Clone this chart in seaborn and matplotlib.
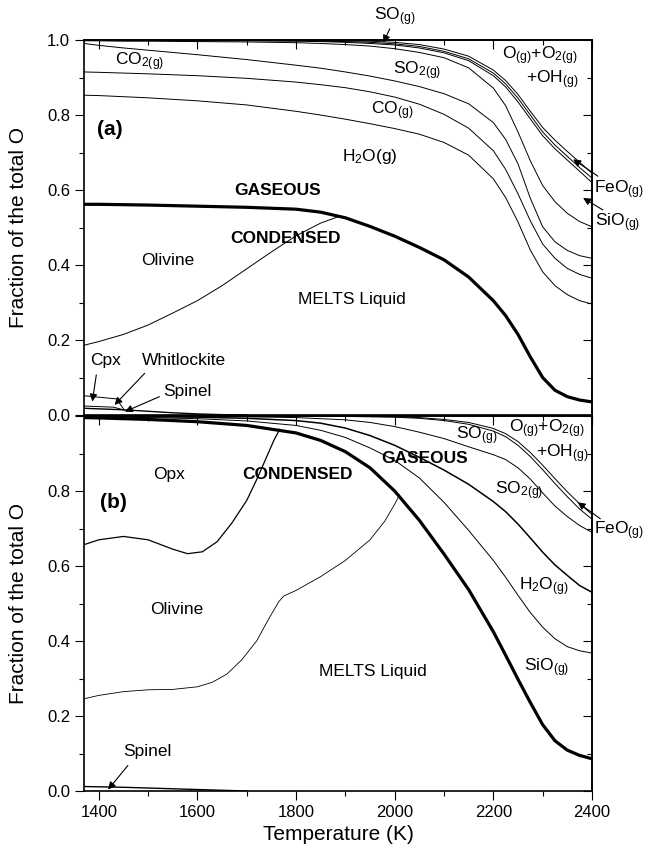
import matplotlib
matplotlib.use("Agg")
import matplotlib.pyplot as plt
import seaborn as sns
from matplotlib.ticker import MultipleLocator

# temperature grid (K) shared by the gas boundaries
temps = [1370, 1400, 1450, 1500, 1600, 1700, 1800, 1850, 1900, 1950, 2000,
         2050, 2100, 2150, 2200, 2225, 2250, 2275, 2300, 2325, 2350, 2375, 2400]

# ---- panel (a): cumulative fraction boundaries ----
cond_a = [0.562, 0.562, 0.561, 0.560, 0.557, 0.554, 0.549, 0.541, 0.526, 0.503, 0.477,
          0.447, 0.414, 0.368, 0.305, 0.265, 0.215, 0.155, 0.100, 0.066, 0.049, 0.040, 0.035]
h2o_a = [0.853, 0.852, 0.849, 0.846, 0.838, 0.827, 0.810, 0.800, 0.789, 0.777, 0.764,
         0.749, 0.727, 0.693, 0.630, 0.580, 0.515, 0.440, 0.382, 0.345, 0.321, 0.305, 0.296]
co_a = [0.915, 0.914, 0.912, 0.910, 0.905, 0.898, 0.888, 0.881, 0.873, 0.862, 0.848,
        0.829, 0.802, 0.765, 0.705, 0.655, 0.590, 0.518, 0.456, 0.418, 0.391, 0.375, 0.365]
co2_a = [0.991, 0.986, 0.979, 0.973, 0.961, 0.948, 0.933, 0.925, 0.915, 0.904, 0.891,
         0.876, 0.857, 0.830, 0.780, 0.735, 0.670, 0.578, 0.502, 0.462, 0.439, 0.425, 0.418]
so2_a = [0.998, 0.998, 0.997, 0.997, 0.996, 0.995, 0.993, 0.991, 0.988, 0.984, 0.977,
         0.967, 0.953, 0.926, 0.872, 0.825, 0.755, 0.678, 0.612, 0.569, 0.538, 0.516, 0.502]
sio_a = [0.999, 0.999, 0.999, 0.999, 0.998, 0.998, 0.997, 0.996, 0.994, 0.991, 0.987,
         0.979, 0.966, 0.945, 0.905, 0.875, 0.835, 0.790, 0.745, 0.710, 0.680, 0.650, 0.620]
so_a = [0.9995, 0.9995, 0.9995, 0.9995, 0.999, 0.999, 0.998, 0.997, 0.996, 0.994, 0.990,
        0.983, 0.970, 0.950, 0.912, 0.883, 0.845, 0.800, 0.755, 0.720, 0.690, 0.660, 0.632]
feo_a = [1.0, 1.0, 1.0, 1.0, 1.0, 0.9995, 0.999, 0.999, 0.998, 0.997, 0.994,
         0.988, 0.976, 0.957, 0.920, 0.892, 0.855, 0.810, 0.767, 0.733, 0.703, 0.674, 0.645]

olv_a_t = [1370, 1400, 1450, 1500, 1550, 1600, 1650, 1700, 1750, 1800, 1850, 1888]
olv_a = [0.186, 0.196, 0.215, 0.240, 0.272, 0.305, 0.345, 0.390, 0.435, 0.478, 0.512, 0.530]
cpx_a_t = [1370, 1436, 1452]
cpx_a = [0.0515, 0.043, 0.013]
whit_a_t = [1370, 1430, 1452]
whit_a = [0.024, 0.021, 0.013]
spl_a_t = [1370, 1450, 1500, 1550, 1600, 1650, 1700]
spl_a = [0.018, 0.014, 0.010, 0.006, 0.003, 0.001, 0.0]

# ---- panel (b) ----
cond_b = [0.996, 0.995, 0.993, 0.991, 0.985, 0.975, 0.955, 0.935, 0.905, 0.862, 0.800,
          0.722, 0.632, 0.537, 0.425, 0.362, 0.298, 0.236, 0.177, 0.134, 0.109, 0.095, 0.086]
sio_b = [0.998, 0.998, 0.997, 0.996, 0.993, 0.987, 0.975, 0.962, 0.943, 0.915, 0.882,
         0.835, 0.770, 0.695, 0.615, 0.570, 0.522, 0.476, 0.437, 0.406, 0.385, 0.374, 0.368]
h2o_b = [0.999, 0.999, 0.999, 0.998, 0.997, 0.994, 0.988, 0.981, 0.968, 0.948, 0.922,
         0.890, 0.856, 0.818, 0.772, 0.745, 0.712, 0.675, 0.637, 0.603, 0.575, 0.548, 0.530]
so2_b = [0.9995, 0.9995, 0.9995, 0.999, 0.999, 0.998, 0.996, 0.993, 0.990, 0.983, 0.972,
         0.957, 0.940, 0.918, 0.897, 0.884, 0.862, 0.832, 0.795, 0.760, 0.732, 0.708, 0.690]
so_b = [1.0, 1.0, 1.0, 1.0, 1.0, 1.0, 0.9995, 0.9995, 0.999, 0.998, 0.997,
        0.994, 0.988, 0.978, 0.960, 0.945, 0.922, 0.892, 0.857, 0.820, 0.785, 0.752, 0.725]
feo_b = [1.0, 1.0, 1.0, 1.0, 1.0, 1.0, 1.0, 1.0, 0.9995, 0.999, 0.998,
         0.996, 0.991, 0.983, 0.967, 0.953, 0.932, 0.903, 0.869, 0.833, 0.798, 0.766, 0.738]

opx_b_t = [1370, 1400, 1450, 1500, 1550, 1580, 1610, 1640, 1670, 1700, 1720, 1740, 1755, 1767]
opx_b = [0.657, 0.670, 0.679, 0.670, 0.645, 0.633, 0.638, 0.665, 0.715, 0.775, 0.830, 0.890, 0.935, 0.965]
olv_b_t = [1370, 1400, 1450, 1500, 1550, 1600, 1630, 1660, 1690, 1720, 1745, 1765, 1775,
           1800, 1850, 1900, 1950, 1980, 2000, 2010]
olv_b = [0.246, 0.255, 0.265, 0.270, 0.271, 0.278, 0.290, 0.312, 0.350, 0.400, 0.460, 0.505, 0.520,
         0.535, 0.572, 0.615, 0.670, 0.720, 0.765, 0.790]
spl_b_t = [1370, 1450, 1550, 1650, 1700]
spl_b = [0.012, 0.010, 0.006, 0.002, 0.0]

sns.set_theme(style="ticks")
plt.rcParams['font.family'] = ['Liberation Sans', 'DejaVu Sans']
plt.rcParams['mathtext.fontset'] = 'custom'
plt.rcParams['mathtext.rm'] = 'Liberation Sans'
plt.rcParams['mathtext.it'] = 'Liberation Sans:italic'
plt.rcParams['mathtext.bf'] = 'Liberation Sans:bold'
for key in ['text.color', 'axes.labelcolor', 'xtick.color', 'ytick.color', 'axes.edgecolor']:
    plt.rcParams[key] = 'black'

FS = 12.5


def line(ax, x, y, lw=0.7):
    sns.lineplot(x=x, y=y, ax=ax, color="black", linewidth=lw, estimator=None, sort=False)


def label(ax, x, y, s, **kw):
    kw.setdefault("fontsize", FS)
    kw.setdefault("ha", "center")
    kw.setdefault("va", "center")
    ax.text(x, y, s, color="black", clip_on=False, **kw)


def arrow(ax, tail, tip):
    ax.annotate("", xy=tip, xytext=tail, annotation_clip=False,
                arrowprops=dict(arrowstyle="-|>", color="black", lw=0.8,
                                mutation_scale=11, shrinkA=0, shrinkB=0))


def style(ax, last_label=True):
    ax.set_xlim(1370, 2400)
    ax.set_ylim(0, 1.0)
    ax.xaxis.set_major_locator(MultipleLocator(200))
    ax.xaxis.set_minor_locator(MultipleLocator(100))
    ax.set_yticks([0.0, 0.2, 0.4, 0.6, 0.8, 1.0])
    labs = ["0.0", "0.2", "0.4", "0.6", "0.8", "1.0" if last_label else ""]
    ax.set_yticklabels(labs)
    ax.yaxis.set_minor_locator(MultipleLocator(0.1))
    ax.tick_params(which="both", direction="out", width=0.8, colors="black",
                   labelsize=12, top=False, right=False)
    ax.tick_params(which="major", length=6.5)
    ax.tick_params(which="minor", length=3.5)
    for s in ax.spines.values():
        s.set_visible(True)
        s.set_linewidth(1.2)
        s.set_color("black")
    top = ax.secondary_xaxis("top")
    top.xaxis.set_major_locator(MultipleLocator(200))
    top.xaxis.set_minor_locator(MultipleLocator(100))
    top.tick_params(which="both", direction="in", labeltop=False, width=0.8, colors="black")
    top.tick_params(which="major", length=6.5)
    top.tick_params(which="minor", length=3.5)
    top.spines["top"].set_linewidth(1.2)
    right = ax.secondary_yaxis("right")
    right.yaxis.set_major_locator(MultipleLocator(0.2))
    right.yaxis.set_minor_locator(MultipleLocator(0.1))
    right.tick_params(which="both", direction="in", labelright=False, width=0.8, colors="black")
    right.tick_params(which="major", length=6.5)
    right.tick_params(which="minor", length=3.5)
    right.spines["right"].set_linewidth(1.2)
    ax.set_ylabel("Fraction of the total O", fontsize=15)
    ax.yaxis.set_label_coords(-0.11, 0.5)


fig = plt.figure(figsize=(6.56, 8.6), dpi=100)
ax_a = fig.add_axes([0.128, 0.5174, 0.7744, 0.436])
ax_b = fig.add_axes([0.128, 0.0802, 0.7744, 0.436])

# ---- draw panel (a) ----
for ys in [h2o_a, co_a, co2_a, so2_a, sio_a, so_a, feo_a]:
    line(ax_a, temps, ys)
line(ax_a, temps, cond_a, lw=2.3)
line(ax_a, olv_a_t, olv_a)
line(ax_a, cpx_a_t, cpx_a)
line(ax_a, whit_a_t, whit_a)
line(ax_a, spl_a_t, spl_a, lw=1.0)
style(ax_a)
ax_a.set_xlabel("")
ax_a.tick_params(labelbottom=False)

label(ax_a, 2000, 1.062, r"SO$_{\rm (g)}$")
arrow(ax_a, (1990, 1.030), (1977, 0.993))
label(ax_a, 1483, 0.943, r"CO$_{\rm 2(g)}$")
label(ax_a, 2045, 0.918, r"SO$_{\rm 2(g)}$")
label(ax_a, 1995, 0.811, r"CO$_{\rm (g)}$")
label(ax_a, 1950, 0.690, r"H$_{\rm 2}$O(g)")
label(ax_a, 2295, 0.958, r"O$_{\rm (g)}$+O$_{\rm 2(g)}$")
label(ax_a, 2320, 0.893, r"+OH$_{\rm (g)}$")
label(ax_a, 1423, 0.762, "(a)", fontsize=15, fontweight="bold")
label(ax_a, 1763, 0.600, "GASEOUS", fontweight="bold")
label(ax_a, 1778, 0.472, "CONDENSED", fontweight="bold")
label(ax_a, 1540, 0.413, "Olivine")
label(ax_a, 1913, 0.308, "MELTS Liquid")
label(ax_a, 1413, 0.145, "Cpx")
arrow(ax_a, (1395, 0.107), (1387, 0.036))
label(ax_a, 1572, 0.145, "Whitlockite")
arrow(ax_a, (1493, 0.111), (1432, 0.027))
label(ax_a, 1580, 0.064, "Spinel")
arrow(ax_a, (1523, 0.049), (1453, 0.009))
label(ax_a, 2404, 0.600, r"FeO$_{\rm (g)}$", ha="left")
arrow(ax_a, (2412, 0.637), (2362, 0.682))
label(ax_a, 2406, 0.513, r"SiO$_{\rm (g)}$", ha="left")
arrow(ax_a, (2422, 0.547), (2382, 0.579))

# ---- draw panel (b) ----
for ys in [sio_b, so2_b, so_b, feo_b]:
    line(ax_b, temps, ys)
line(ax_b, temps, h2o_b, lw=1.1)
line(ax_b, temps, cond_b, lw=2.3)
line(ax_b, opx_b_t, opx_b, lw=0.9)
line(ax_b, olv_b_t, olv_b, lw=0.6)
line(ax_b, spl_b_t, spl_b, lw=1.0)
style(ax_b, last_label=False)
ax_b.set_xlabel("Temperature (K)", fontsize=15)

label(ax_b, 1430, 0.770, "(b)", fontsize=15, fontweight="bold")
label(ax_b, 1542, 0.845, "Opx")
label(ax_b, 1803, 0.843, "CONDENSED", fontweight="bold")
label(ax_b, 2060, 0.887, "GASEOUS", fontweight="bold")
label(ax_b, 2167, 0.948, r"SO$_{\rm (g)}$")
label(ax_b, 2308, 0.965, r"O$_{\rm (g)}$+O$_{\rm 2(g)}$")
label(ax_b, 2340, 0.900, r"+OH$_{\rm (g)}$")
label(ax_b, 2252, 0.800, r"SO$_{\rm 2(g)}$")
label(ax_b, 2303, 0.545, r"H$_{\rm 2}$O$_{\rm (g)}$")
label(ax_b, 2405, 0.695, r"FeO$_{\rm (g)}$", ha="left")
arrow(ax_b, (2417, 0.726), (2371, 0.770))
label(ax_b, 1559, 0.484, "Olivine")
label(ax_b, 1955, 0.320, "MELTS Liquid")
label(ax_b, 2309, 0.330, r"SiO$_{\rm (g)}$")
label(ax_b, 1498, 0.106, "Spinel")
arrow(ax_b, (1459, 0.068), (1419, 0.004))

fig.savefig("out.png", dpi=100, facecolor="white")
